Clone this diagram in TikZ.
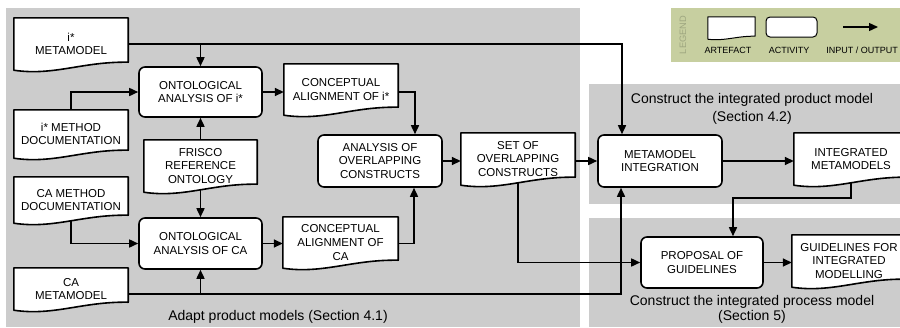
\documentclass[tikz,border=0pt]{standalone}
\usepackage{fontspec}
\setmainfont{Liberation Sans}
\usepackage{xcolor}
\usetikzlibrary{arrows.meta,positioning,calc,backgrounds}
\pgfdeclarelayer{paper}
\pgfsetlayers{background,paper,main}
\definecolor{regiongray}{RGB}{204,204,204}
\definecolor{legendgreen}{RGB}{199,207,160}
\definecolor{legendtext}{RGB}{158,166,128}
\newcommand{\boxfont}{\fontsize{11.5}{13.6}\selectfont}

\begin{document}
\begin{tikzpicture}[x=1pt, y=-1pt, >={Triangle[length=9pt, width=8pt]},
    activity/.style={draw, rectangle, rounded corners=6pt, fill=white, line width=1.6pt, align=center, font=\boxfont, inner sep=2pt},
    artefact/.style={rectangle, align=center, font=\boxfont, inner sep=2pt},
    flow/.style={->, line width=1.6pt},
    region/.style={fill=regiongray},
    regionlabel/.style={font=\fontsize{14}{17}\selectfont, align=center},
    legendlabel/.style={font=\fontsize{9}{11}\selectfont}]

    \useasboundingbox (0,0) rectangle (900,327);

    % grey areas
    \begin{pgfonlayer}{background}
        \fill[region] (6,8) rectangle (580,327);
        \fill[region] (589,84) rectangle (900,204);
        \fill[region] (589,218) rectangle (900,327);
        \fill[legendgreen] (671,8) rectangle (900,62);
    \end{pgfonlayer}

    % artefacts and activities
    \node[artefact, minimum width=114pt, minimum height=52pt] (imeta) at (71,44) {i*\\METAMODEL};
    \node[artefact, minimum width=114pt, minimum height=48pt] (imeth) at (71,134) {i* METHOD\\DOCUMENTATION};
    \node[artefact, minimum width=113pt, minimum height=52pt] (frisco) at (200.5,166) {FRISCO\\REFERENCE\\ONTOLOGY};
    \node[artefact, minimum width=114pt, minimum height=46pt] (cameth) at (71,200) {CA METHOD\\DOCUMENTATION};
    \node[artefact, minimum width=114pt, minimum height=42pt] (cameta) at (71,289) {CA\\METAMODEL};
    \node[activity, minimum width=123pt, minimum height=50pt] (ontoi) at (200.5,92) {ONTOLOGICAL\\ANALYSIS OF i*};
    \node[activity, minimum width=123pt, minimum height=51pt] (ontoca) at (200.5,243.5) {ONTOLOGICAL\\ANALYSIS OF CA};
    \node[artefact, minimum width=114pt, minimum height=51pt] (conci) at (341,89.5) {CONCEPTUAL\\ALIGNMENT OF i*};
    \node[artefact, minimum width=115pt, minimum height=51pt] (concca) at (340.5,242.5) {CONCEPTUAL\\ALIGNMENT OF\\CA};
    \node[activity, minimum width=124pt, minimum height=52pt] (analysis) at (380,161) {ANALYSIS OF\\OVERLAPPING\\CONSTRUCTS};
    \node[artefact, minimum width=114pt, minimum height=52pt] (set) at (518,159) {SET OF\\OVERLAPPING\\CONSTRUCTS};
    \node[activity, minimum width=124pt, minimum height=52pt] (mi) at (660,161) {METAMODEL\\INTEGRATION};
    \node[artefact, minimum width=114pt, minimum height=52pt] (im) at (851,159) {INTEGRATED\\METAMODELS};
    \node[activity, minimum width=122pt, minimum height=51pt] (prop) at (702,262.5) {PROPOSAL OF\\GUIDELINES};
    \node[artefact, minimum width=114pt, minimum height=52pt] (guide) at (849,261) {GUIDELINES FOR\\INTEGRATED\\MODELLING};

    % legend
    \node[rotate=90, text=legendtext, font=\fontsize{9.3}{11}\selectfont] (legtitle) at (683,35) {LEGEND};
    \node[artefact, minimum width=47pt, minimum height=22pt] (legart) at (731.5,28) {};
    \node[activity, minimum width=51pt, minimum height=20pt, line width=1pt, rounded corners=4pt] (legact) at (791.5,27) {};
    \coordinate (legfrom) at (843,27);
    \coordinate (legto) at (878,27);
    \draw[flow, line width=1.3pt] (legfrom) -- (legto);
    \node[legendlabel] (legartlbl) at (728,50) {ARTEFACT};
    \node[legendlabel] (legactlbl) at (789,50) {ACTIVITY};
    \node[legendlabel] (legiolbl) at (862,50) {INPUT / OUTPUT};

    % paper outlines with wavy bottom
    \begin{pgfonlayer}{paper}
        \foreach \n/\a/\w in {imeta/8/1.6, imeth/8/1.6, frisco/8/1.6, cameth/8/1.6, cameta/8/1.6, conci/8/1.6, concca/8/1.6, set/8/1.6, im/8/1.6, guide/8/1.6, legart/3/1}
            \draw[line width=\w pt, fill=white, line join=round]
                (\n.north west) -- (\n.north east) -- ([yshift=\a pt]\n.south east)
                .. controls ($(\n.south west)!0.6!(\n.south east)+(0pt,{1.1*\a pt})$)
                and ($(\n.south west)!0.35!(\n.south east)+(0pt,{-0.75*\a pt})$) .. (\n.south west) -- cycle;
    \end{pgfonlayer}

    % flows
    \draw[flow] (imeta.east) -| ([xshift=-38pt]mi.north);
    \draw[flow] (imeta.east -| ontoi.north) -- (ontoi.north);
    \draw[flow] (imeth.north) |- (ontoi.west);
    \draw[flow] (frisco.north) -- (ontoi.south);
    \draw[flow] ([yshift=2pt]frisco.south) -- (ontoca.north);
    \draw[flow] ([yshift=2pt]cameth.south) |- (ontoca.west);
    \coordinate (cabus) at ([yshift=-5pt]cameta.east);
    \draw[flow] (cabus) -| ([xshift=-39pt]mi.south);
    \draw[flow] (cabus -| ontoca.south) -- (ontoca.south);
    \draw[flow] (ontoi.east) -- (ontoi.east -| conci.west);
    \draw[flow] (conci.east |- ontoi.east) -| ([xshift=35pt]analysis.north);
    \draw[flow] (ontoca.east) -- (ontoca.east -| concca.west);
    \draw[flow] (concca.east |- ontoca.east) -| ([xshift=34pt]analysis.south);
    \draw[flow] (analysis.east) -- (analysis.east -| set.west);
    \draw[flow] (set.east |- mi.west) -- (mi.west);
    \draw[flow] ([yshift=2pt]set.south) |- (prop.west);
    \draw[flow] (mi.east) -- (mi.east -| im.west);
    \draw[flow] ([yshift=2pt]im.south) -- ++(0,15) -| ([xshift=31pt]prop.north);
    \draw[flow] (prop.east) -- (prop.east -| guide.west);

    % area labels
    \node[regionlabel] (adaptlbl) at (278,317) {Adapt product models (Section 4.1)};
    \node[regionlabel, font=\fontsize{14}{18}\selectfont] (productlbl) at (752,109) {Construct the integrated product model\\(Section 4.2)};
    \node[regionlabel, font=\fontsize{14}{15}\selectfont] (processlbl) at (752,309.5) {Construct the integrated process model\\(Section 5)};
\end{tikzpicture}
\end{document}
